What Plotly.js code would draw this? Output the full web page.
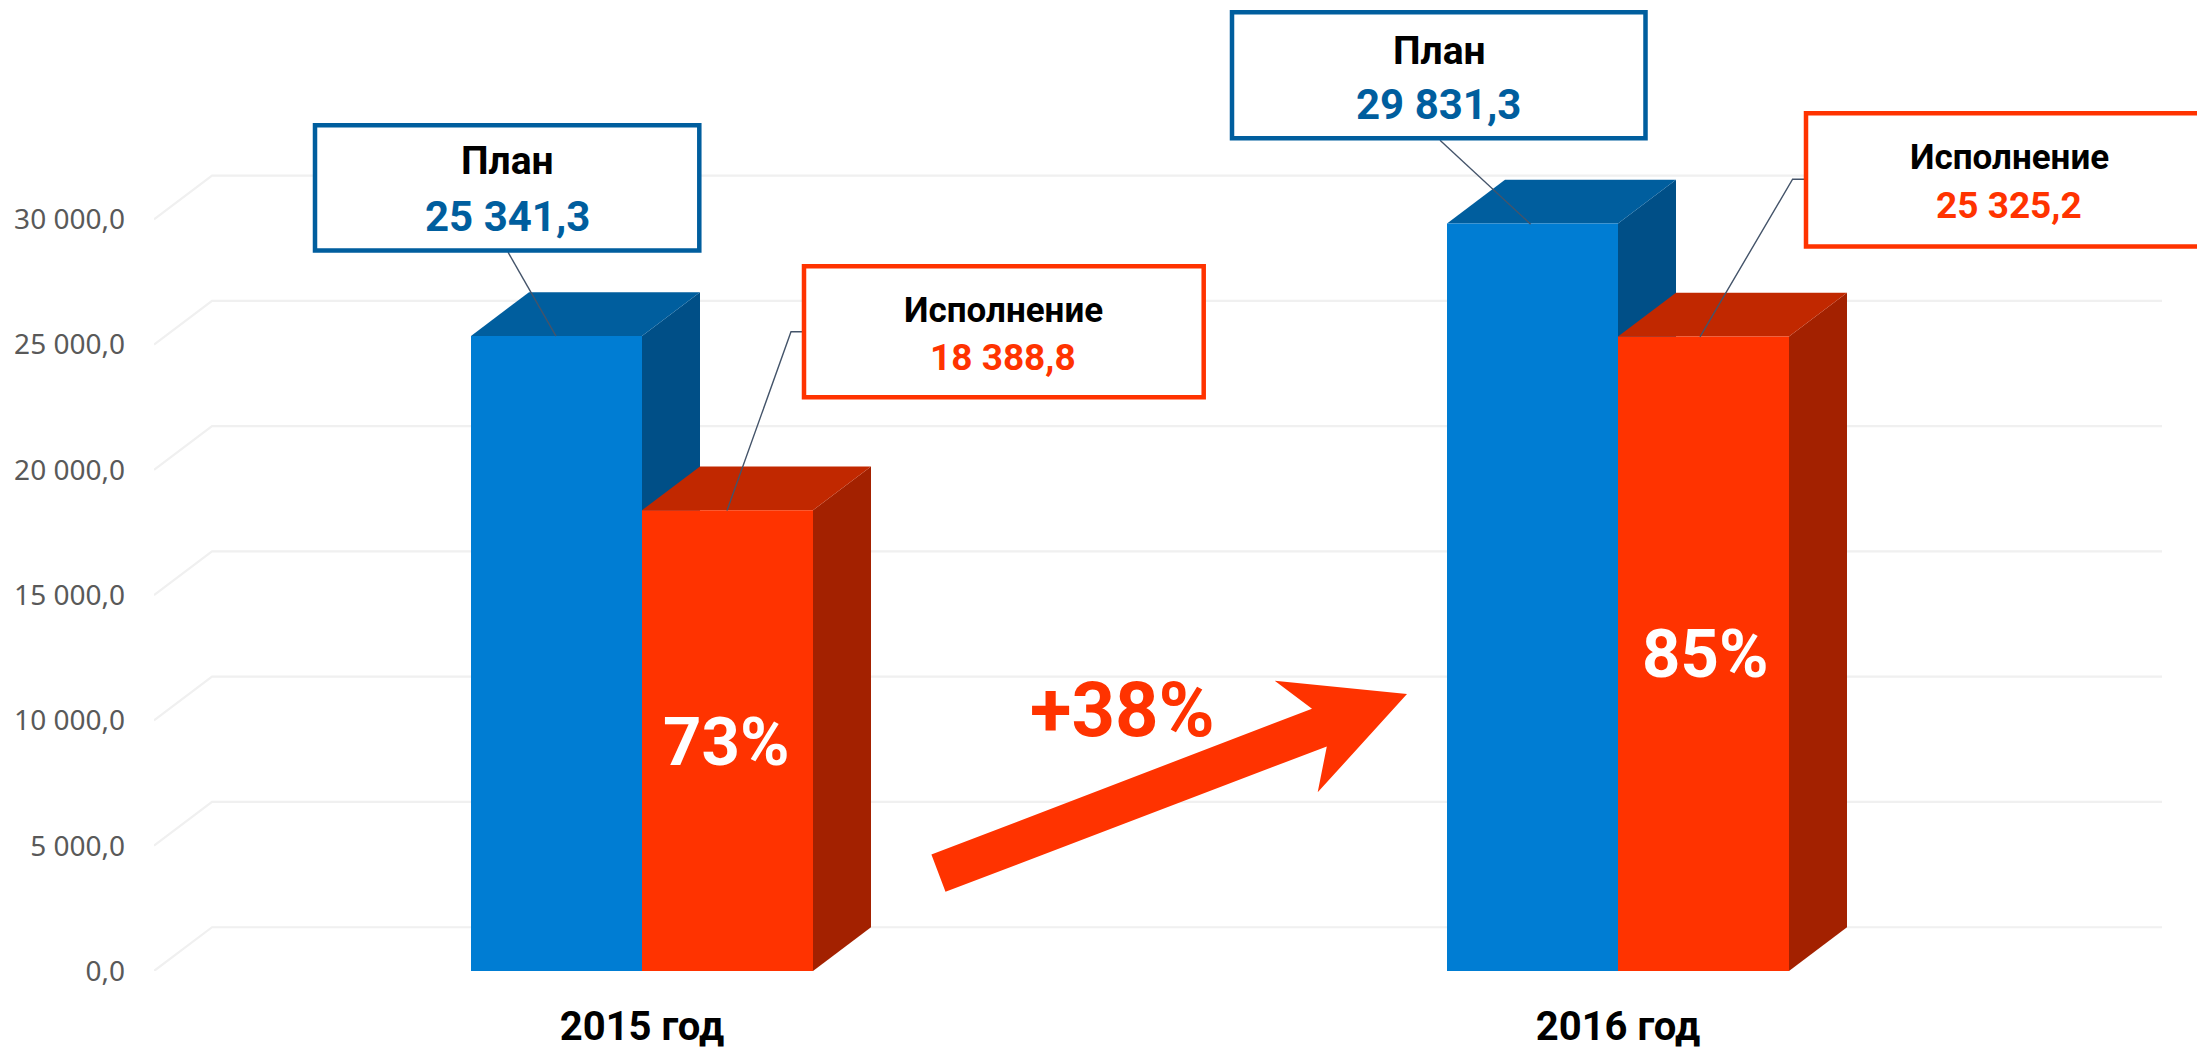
<!DOCTYPE html>
<html><head><meta charset="utf-8">
<script src="https://cdn.plot.ly/plotly-3.0.1.min.js"></script>
<style>html,body{margin:0;padding:0;background:#fff}#c{width:2197px;height:1051px}</style>
</head><body><div id="c"></div>
<script>
const categories = ['2015 год', '2016 год'];
const planValues = [25341.3, 29831.3];
const execValues = [18388.8, 25325.2];
const planLabels = ['25\u00A0341,3', '29\u00A0831,3'];
const execLabels = ['18\u00A0388,8', '25\u00A0325,2'];
const percentLabels = ['73%', '85%'];
const growthLabel = '+38%';
const tickValues = [0, 5000, 10000, 15000, 20000, 25000, 30000];
const tickLabels = ['0,0', '5\u00A0000,0', '10\u00A0000,0', '15\u00A0000,0', '20\u00A0000,0', '25\u00A0000,0', '30\u00A0000,0'];

const W = 2197, H = 1051;
const L = 154, R = 2162, T = 93.7, B = 971.5;
const colors = {
  blue: '#007dd3', blueTop: '#005e9e', blueSide: '#004f87',
  red: '#ff3300', redTop: '#c12800', redSide: '#a32100',
  grid: '#f0f0f0', leader: '#44546a', tick: '#595959'
};
const xPerPx = 1 / 976;
const xRange = [-0.5, -0.5 + (R - L) * xPerPx];
const yRange = [0, 35000];
const yPerPx = 35000 / (B - T);
const depthX = 58 * xPerPx, depthY = 43.8 * yPerPx;
const barW = 171 * xPerPx;

// pixel helpers for decoration (callouts, arrow), which are not data marks
const px = x => (x - L) / (R - L);
const py = y => (B - y) / (B - T);

const shapes = [];
function poly(pts, fill, layer) {
  shapes.push({type: 'path', xref: 'x', yref: 'y', layer: layer || 'below', fillcolor: fill,
    line: {width: 0}, path: 'M' + pts.map(p => p[0] + ',' + p[1]).join('L') + 'Z'});
}
tickValues.forEach(v => {
  shapes.push({type: 'path', xref: 'x', yref: 'y', layer: 'below', line: {color: colors.grid, width: 2.2},
    path: `M${xRange[0]},${v}L${xRange[0] + depthX},${v + depthY}L${xRange[1]},${v + depthY}`});
});
function box3d(x0, v, top, side) {
  const x1 = x0 + barW;
  poly([[x1, 0], [x1 + depthX, depthY], [x1 + depthX, v + depthY], [x1, v]], side);
  poly([[x0, v], [x1, v], [x1 + depthX, v + depthY], [x0 + depthX, v + depthY]], top);
}
categories.forEach((c, i) => {
  box3d(i - barW, planValues[i], colors.blueTop, colors.blueSide);
  box3d(i, execValues[i], colors.redTop, colors.redSide);
});

function leader(pts) {
  shapes.push({type: 'path', xref: 'paper', yref: 'paper', layer: 'above', line: {color: colors.leader, width: 1.4},
    path: 'M' + pts.map(p => px(p[0]) + ',' + py(p[1])).join('L')});
}
function callout(x0, y0, x1, y1, color) {
  shapes.push({type: 'rect', xref: 'paper', yref: 'paper', layer: 'above', x0: px(x0), x1: px(x1), y0: py(y0), y1: py(y1),
    fillcolor: '#ffffff', line: {color: color, width: 4.5}});
}
leader([[508, 252], [556, 336]]);
leader([[802, 331.7], [791, 331.7], [727, 510.7]]);
leader([[1440, 140], [1530.6, 224]]);
leader([[1804, 179], [1792.6, 179], [1700, 336.7]]);
callout(315, 125, 699.3, 250.4, colors.blueTop);
callout(804, 266, 1203.7, 397.3, colors.red);
callout(1232, 12, 1645.5, 138, colors.blueTop);
callout(1806, 113, 2240, 246.3, colors.red);

// growth arrow
const arrow = [[931.4, 855], [945.5, 892.3], [1326.8, 746.7], [1317.7, 792.7], [1407, 694.3], [1274.7, 681], [1312, 709]];
shapes.push({type: 'path', xref: 'paper', yref: 'paper', layer: 'above', fillcolor: colors.red, line: {width: 0},
  path: 'M' + arrow.map(p => px(p[0]) + ',' + py(p[1])).join('L') + 'Z'});

const boldFont = 'Roboto, "Open Sans", sans-serif';
function txt(text, x, y, size, color) {
  return {text: '<b>' + text + '</b>', xref: 'paper', yref: 'paper', x: px(x), y: py(y), xanchor: 'center', yanchor: 'middle',
    showarrow: false, font: {family: boldFont, size: size, color: color}};
}
const annotations = [
  txt('План', 507, 161, 39, '#000000'),
  txt(planLabels[0], 507, 216, 42, colors.blueTop),
  txt('Исполнение', 1003, 310, 35, '#000000'),
  txt(execLabels[0], 1003, 357, 37, colors.red),
  txt('План', 1439, 51, 39, '#000000'),
  txt(planLabels[1], 1438, 104, 42, colors.blueTop),
  txt('Исполнение', 2009, 157, 35, '#000000'),
  txt(execLabels[1], 2008.5, 205, 37, colors.red),
  txt(percentLabels[0], 726, 742, 67, '#ffffff'),
  txt(percentLabels[1], 1705, 654, 67, '#ffffff'),
  txt(growthLabel, 1122, 710, 76, colors.red)
];

const traces = [
  {type: 'bar', name: 'План', x: categories.map((c, i) => i), y: planValues, marker: {color: colors.blue, line: {width: 0}}, hoverinfo: 'skip'},
  {type: 'bar', name: 'Исполнение', x: categories.map((c, i) => i), y: execValues, marker: {color: colors.red, line: {width: 0}}, hoverinfo: 'skip'}
];
const layout = {
  width: W, height: H, showlegend: false, paper_bgcolor: '#fff', plot_bgcolor: 'rgba(0,0,0,0)',
  margin: {l: L, r: W - R, t: T, b: H - B, pad: 0},
  barmode: 'group', bargap: 1 - 2 * barW, bargroupgap: 0,
  xaxis: {type: 'linear', range: xRange, tickvals: categories.map((c, i) => i), ticktext: categories.map(c => '<b>' + c + '</b>'),
    showgrid: false, zeroline: false, showline: false, ticks: '', ticklabelstandoff: 28,
    tickfont: {family: boldFont, size: 40, color: '#000'}},
  yaxis: {type: 'linear', range: yRange, tickvals: tickValues, ticktext: tickLabels,
    showgrid: false, zeroline: false, showline: false, ticks: '', ticklabelstandoff: 28,
    tickfont: {family: '"Noto Sans", "Open Sans", sans-serif', size: 28, color: colors.tick}},
  shapes: shapes, annotations: annotations
};
Plotly.newPlot('c', traces, layout, {staticPlot: true, displayModeBar: false});
</script></body></html>
